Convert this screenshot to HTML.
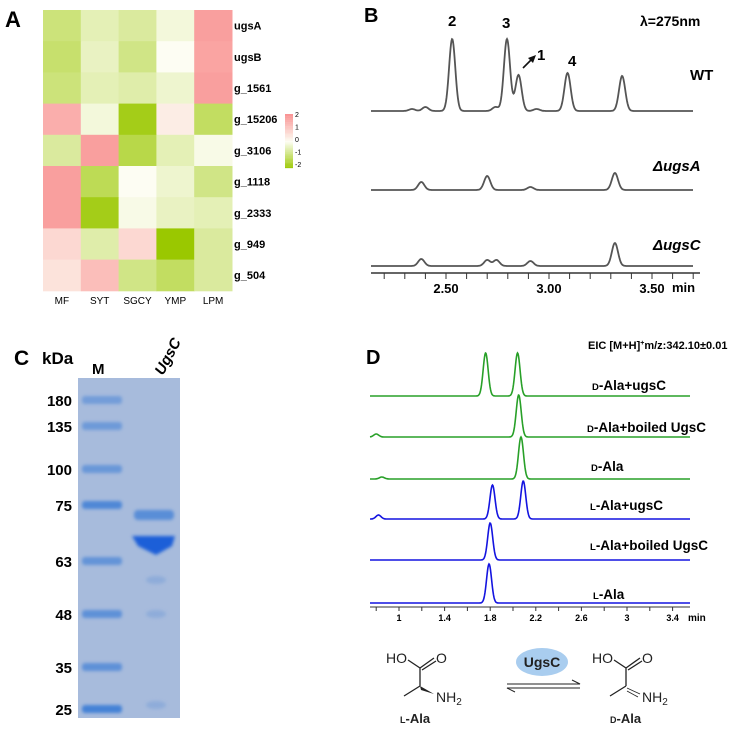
<!DOCTYPE html>
<html><head><meta charset="utf-8"><style>
body{margin:0;background:#fff}
svg{display:block;font-family:"Liberation Sans",Arial,sans-serif}
</style></head><body>
<svg id="fig" width="756" height="734" viewBox="0 0 756 734">
<defs>
<filter id="blur" x="-20%" y="-50%" width="140%" height="200%"><feGaussianBlur stdDeviation="1.6"/></filter>
</defs>
<g id="panelA">
<text x="5" y="27" font-size="22" font-weight="bold">A</text>
<g id="heat"></g>
<g id="cbar"></g>
</g>
<g id="panelB">
<text x="364" y="22" font-size="20" font-weight="bold">B</text>
<text x="640" y="26" font-size="14" font-weight="bold">λ=275nm</text>
<g id="bTraces"></g>
</g>
<g id="panelC">
<text x="14" y="365" font-size="21" font-weight="bold">C</text>
<text x="42" y="364" font-size="17" font-weight="bold">kDa</text>
<text x="92" y="374" font-size="15" font-weight="bold">M</text>
<text transform="translate(163,376) rotate(-62)" font-size="15" font-weight="bold" font-style="italic">UgsC</text>
<rect x="78" y="378" width="102" height="340" fill="#a7bbdc"/>
<g id="gel"></g>
</g>
<g id="panelD">
<text x="366" y="364" font-size="20" font-weight="bold">D</text>
<text x="588" y="349" font-size="11" font-weight="bold">EIC [M+H]<tspan font-size="7" dy="-4">+</tspan><tspan dy="4">m/z:342.10±0.01</tspan></text>
<g id="dTraces"></g>
<g font-size="14" fill="#222">
<text x="386" y="663">HO</text>
<text x="436" y="663">O</text>
<path d="M408,660 L420,668 L434,658 M420,668 L420,686 M420,686 L404,696 M422,670 L436,661" stroke="#222" stroke-width="1.3" fill="none"/>
<path d="M420,686 L434,694 L421,690 Z" fill="#222"/>
<text x="436" y="702">NH<tspan font-size="10" dy="3">2</tspan></text>
<text x="400" y="723" font-weight="bold" font-size="13"><tspan font-size="9">L</tspan>-Ala</text>
<ellipse cx="542" cy="662" rx="26" ry="14" fill="#a9cdef"/>
<text x="542" y="667" text-anchor="middle" font-weight="bold" font-size="14">UgsC</text>
<path d="M507,684 L580,684 L572,680 M580,688 L507,688 L515,692" stroke="#222" stroke-width="1" fill="none"/>
<text x="592" y="663">HO</text>
<text x="642" y="663">O</text>
<path d="M614,660 L626,668 L640,658 M626,668 L626,686 M626,686 L610,696 M628,670 L642,661" stroke="#222" stroke-width="1.3" fill="none"/>
<path d="M627,688 L640,694 M627,691 L638,697" stroke="#222" stroke-width="0.8"/>
<text x="642" y="702">NH<tspan font-size="10" dy="3">2</tspan></text>
<text x="610" y="723" font-weight="bold" font-size="13"><tspan font-size="9">D</tspan>-Ala</text>
</g>
</g>
</svg>
<script>
const NS="http://www.w3.org/2000/svg";
// ---- Panel A data ----
const genes=["ugsA","ugsB","g_1561","g_15206","g_3106","g_1118","g_2333","g_949","g_504"];
const samples=["MF","SYT","SGCY","YMP","LPM"];
const heatValues=[
[-1,-0.5,-0.7,-0.2,1.8],
[-1.1,-0.4,-0.9,0,1.7],
[-1,-0.5,-0.6,-0.3,1.8],
[1.5,-0.2,-1.8,0.3,-1.2],
[-0.7,1.8,-1.4,-0.5,-0.1],
[1.8,-1.3,0,-0.3,-0.9],
[1.8,-1.8,-0.1,-0.4,-0.5],
[0.7,-0.6,0.7,-2,-0.7],
[0.5,1.2,-0.9,-1.2,-0.7]];
const cbarTicks=["2","1","0","-1","-2"];
// ---- Panel B data ----
const bTicks=[2.5,3.0,3.5];
const bTickLabels=["2.50","3.00","3.50"];
const wtPeaks=[[2.335,2],[2.40,4],[2.53,72],[2.74,4],[2.796,72],[2.852,36],[2.94,2],[3.09,38],[3.355,35]];
const ugsAPeaks=[[2.38,8],[2.70,14],[2.91,3],[3.32,17]];
const ugsCPeaks=[[2.38,7],[2.70,6],[2.745,6],[2.91,5],[3.32,23]];
const bNames=["WT","ΔugsA","ΔugsC"];
// ---- Panel C data ----
const markerKDa=["180","135","100","75","63","48","35","25"];
// ---- Panel D data ----
const dTicks=[1,1.4,1.8,2.2,2.6,3,3.4];
const dNames=["D-Ala+ugsC","D-Ala+boiled UgsC","D-Ala","L-Ala+ugsC","L-Ala+boiled UgsC","L-Ala"];
const dAugsC=[[1.76,43],[2.04,43]];
const dAboiled=[[0.8,3],[2.05,42]];
const dAla=[[0.85,2],[2.07,42]];
const lAugsC=[[0.82,4],[1.82,34],[2.09,38]];
const lAboiled=[[1.80,37]];
const lAla=[[1.79,39]];

function el(tag,attrs,parent){const e=document.createElementNS(NS,tag);for(const k in attrs)e.setAttribute(k,attrs[k]);parent.appendChild(e);return e;}
function mix(a,b,t){return a.map((v,i)=>Math.round(v+(b[i]-v)*t));}
function heatColor(v){const w=[253,253,243],p=[249,148,148],g=[154,200,0];
 const c=v>=0?mix(w,p,Math.min(v/2,1)):mix(w,g,Math.min(-v/2,1));return `rgb(${c})`;}

// Panel A
const heat=document.getElementById('heat');
const hx0=43,hy0=10,cw=37.8,rh=31.2;
genes.forEach((gname,r)=>{
 samples.forEach((s,c)=>{
  const rc=el('rect',{x:hx0+c*cw,y:hy0+r*rh,width:cw+0.5,height:rh+0.5,fill:heatColor(heatValues[r][c])},heat);
  
  
 });
 const t=el('text',{x:234,y:hy0+r*rh+rh/2+4,'font-size':11,'font-weight':'bold'},heat);t.textContent=gname;
 
 
});
samples.forEach((s,c)=>{const t=el('text',{x:hx0+c*cw+cw/2,y:304,'font-size':10,'text-anchor':'middle'},heat);t.textContent=s;
 
 });
const cb=document.getElementById('cbar');
for(let i=0;i<40;i++){const v=2-4*i/40;el('rect',{x:285,y:114+i*1.35,width:8,height:1.5,fill:heatColor(v)},cb);}
cbarTicks.forEach((l,i)=>{const t=el('text',{x:295,y:117+i*12.5,'font-size':7},cb);t.textContent=l;
 
 });

function gauss(peaks,t,sig){let s=0;for(const [c,h] of peaks)s+=h*Math.exp(-0.5*((t-c)/sig)**2);return s;}
function tracePath(peaks,x0,x1,tOf,base,sig){let d='';for(let x=x0;x<=x1;x+=0.5){const t=tOf(x);d+=(d?'L':'M')+x.toFixed(1)+','+(base-gauss(peaks,t,sig)).toFixed(1);}return d;}

// Panel B
const bg=document.getElementById('bTraces');
const bx=t=>446+(t-2.5)*206, bt=x=>2.5+(x-446)/206;
[[wtPeaks,111],[ugsAPeaks,190],[ugsCPeaks,266]].forEach(([pk,base],i)=>{
 const p=el('path',{d:tracePath(pk,371,693,bt,base,0.015),stroke:'#555',fill:'none','stroke-width':1.8},bg);
 
 
});
[["WT",690,80,false],["ΔugsA",653,171,true],["ΔugsC",653,250,true]].forEach(([n,x,y,it])=>{
 const t=el('text',{x:x,y:y,'font-size':15,'font-weight':'bold','font-style':it?'italic':'normal'},bg);t.textContent=n;
 
 });
[["2",448,26],["3",502,28],["4",568,66],["1",537,60]].forEach(([n,x,y])=>{const t=el('text',{x:x,y:y,'font-size':15,'font-weight':'bold'},bg);t.textContent=n;
 
 });
el('path',{d:'M523,68 L533,58',stroke:'#111','stroke-width':1.6},bg);
el('path',{d:'M536,55 L528,58 L533,63 Z',fill:'#111'},bg);
const ax=el('line',{x1:371,y1:273,x2:700,y2:273,stroke:'#333','stroke-width':1.5},bg);


for(let t=2.2;t<=3.71;t+=0.1){el('line',{x1:bx(t),y1:273,x2:bx(t),y2:279,stroke:'#333','stroke-width':1},bg);}
bTicks.forEach((t,i)=>{const tx=el('text',{x:bx(t),y:293,'font-size':13,'font-weight':'bold','text-anchor':'middle'},bg);tx.textContent=bTickLabels[i];
 
 });
const mn=el('text',{x:672,y:292,'font-size':13,'font-weight':'bold'},bg);mn.textContent='min';



// Panel C
const gel=document.getElementById('gel');
const markerY=[400,426,469,505,561,614,667,709];
const markerStr=[0.5,0.55,0.6,0.85,0.65,0.7,0.7,0.95];
markerKDa.forEach((k,i)=>{
 const b=el('rect',{x:82,y:markerY[i]-4,width:40,height:8,rx:3,fill:'#3f7fd6',opacity:markerStr[i],filter:'url(#blur)'},gel);
 
 
 const t=el('text',{x:72,y:markerY[i]+6,'font-size':15,'font-weight':'bold','text-anchor':'end'},gel);t.textContent=k;
 
 
});
const sb1=el('rect',{x:134,y:510,width:40,height:10,rx:4,fill:'#3f7fd6',opacity:0.75,filter:'url(#blur)'},gel);


const sb2=el('path',{d:'M132,536 L175,536 L172,546 L156,555 L138,546 Z',fill:'#1a5fd8',filter:'url(#blur)'},gel);


[[156,580],[156,614],[156,705]].forEach(([x,y])=>el('ellipse',{cx:x,cy:y,rx:10,ry:4,fill:'#7fa3d8',opacity:0.6,filter:'url(#blur)'},gel));

// Panel D
const dg=document.getElementById('dTraces');
const dx=t=>399+(t-1)*114, dt=x=>1+(x-399)/114;
const dSeries=[dAugsC,dAboiled,dAla,lAugsC,lAboiled,lAla];
const dBase=[396,437,479,519,560,603];
const dCol=['#28a028','#28a028','#28a028','#1414e0','#1414e0','#1414e0'];
dSeries.forEach((pk,i)=>{
 const p=el('path',{d:tracePath(pk,370,690,dt,dBase[i],0.022),stroke:dCol[i],fill:'none','stroke-width':1.6},dg);
 
 
});
const dLabelX=[592,587,591,590,590,593];
const dLabelY=[390,432,471,510,550,599];
dNames.forEach((n,i)=>{
 const t=el('text',{x:dLabelX[i],y:dLabelY[i],'font-size':13.5,'font-weight':'bold'},dg);
 t.innerHTML='<tspan font-size="9.5">'+n[0]+'</tspan>'+n.slice(1);
 
 
});
const dax=el('line',{x1:370,y1:607,x2:690,y2:607,stroke:'#333','stroke-width':1},dg);


for(let t=0.8;t<=3.41;t+=0.2){el('line',{x1:dx(t),y1:607,x2:dx(t),y2:611,stroke:'#333','stroke-width':1},dg);}
dTicks.forEach(t=>{const tx=el('text',{x:dx(t),y:621,'font-size':9,'font-weight':'bold','text-anchor':'middle'},dg);tx.textContent=String(t);
 
 });
const mn2=el('text',{x:688,y:621,'font-size':10,'font-weight':'bold'},dg);mn2.textContent='min';


</script>
</body></html>
